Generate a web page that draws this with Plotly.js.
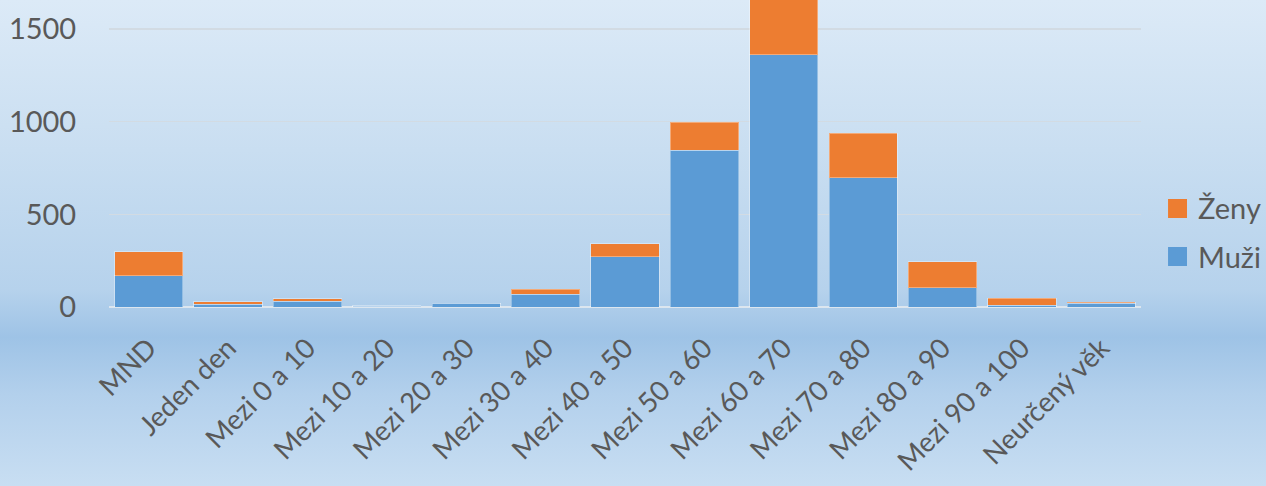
<!DOCTYPE html>
<html>
<head>
<meta charset="utf-8">
<script src="https://cdn.plot.ly/plotly-3.0.1.min.js"></script>
<style>
  html, body { margin: 0; padding: 0; }
  #chart {
    width: 1266px; height: 486px;
    background: linear-gradient(to bottom, #DCEAF7 0px, #C9DEF1 150px, #B6D2EC 290px, #9EC3E6 337px, #B3D0EC 395px, #C8DEF2 486px);
  }
</style>
</head>
<body>
<div id="chart"></div>
<script>
const categories = ["MND", "Jeden den", "Mezi 0 a 10", "Mezi 10 a 20", "Mezi 20 a 30", "Mezi 30 a 40", "Mezi 40 a 50", "Mezi 50 a 60", "Mezi 60 a 70", "Mezi 70 a 80", "Mezi 80 a 90", "Mezi 90 a 100", "Neurčený věk"];
const muzi = [169, 15, 31, 5, 19, 70, 271, 847, 1362, 698, 104, 9, 21];
const zeny = [128, 14, 14, 1, 1, 26, 71, 151, 320, 239, 141, 38, 6];
const seriesNames = ["Muži", "Ženy"];
const yTicks = [0, 500, 1000, 1500];

const textColor = "#595959";
const fontFam = "Lato, 'Open Sans', sans-serif";

const traces = [
  { type: "bar", name: seriesNames[0], x: categories, y: muzi,
    marker: { color: "#5B9BD5", line: { color: "rgba(255,255,255,0.35)", width: 1 } },
    showlegend: false, hoverinfo: "x+y+name" },
  { type: "bar", name: seriesNames[1], x: categories, y: zeny,
    marker: { color: "#ED7D31", line: { color: "rgba(255,255,255,0.35)", width: 1 } },
    showlegend: false, hoverinfo: "x+y+name" }
];

const layout = {
  width: 1266, height: 486,
  margin: { l: 109, r: 125, t: 0, b: 179 },
  paper_bgcolor: "rgba(0,0,0,0)",
  plot_bgcolor: "rgba(0,0,0,0)",
  barmode: "stack",
  bargap: 0.14,
  font: { family: fontFam, color: textColor, size: 29 },
  xaxis: {
    type: "category",
    tickangle: -45,
    ticks: "outside", ticklen: 13, tickcolor: "rgba(0,0,0,0)",
    tickfont: { family: fontFam, size: 27.5, color: textColor },
    showgrid: false, showline: false, zeroline: false,
    automargin: false
  },
  yaxis: {
    range: [0, 1657],
    tickvals: yTicks,
    ticktext: yTicks.map(String),
    ticks: "outside", ticklen: 26, tickcolor: "rgba(0,0,0,0)",
    tickfont: { family: fontFam, size: 29, color: textColor },
    showgrid: true, gridcolor: "#D2DBE3", gridwidth: 1.5,
    zeroline: true, zerolinecolor: "#DCE6EF", zerolinewidth: 2,
    showline: false,
    automargin: false
  },
  shapes: [
    { type: "rect", xref: "paper", yref: "paper", x0: 1.0262, x1: 1.0446, y0: 0.2899, y1: 0.3518,
      fillcolor: "#ED7D31", line: { width: 0 } },
    { type: "rect", xref: "paper", yref: "paper", x0: 1.0262, x1: 1.0446, y0: 0.1336, y1: 0.1954,
      fillcolor: "#5B9BD5", line: { width: 0 } }
  ],
  annotations: [
    { xref: "paper", yref: "paper", x: 1.0533, y: 0.3225, xanchor: "left", yanchor: "middle",
      text: seriesNames[1], showarrow: false, font: { family: fontFam, size: 29, color: textColor } },
    { xref: "paper", yref: "paper", x: 1.0533, y: 0.1629, xanchor: "left", yanchor: "middle",
      text: seriesNames[0], showarrow: false, font: { family: fontFam, size: 29, color: textColor } }
  ]
};

Plotly.newPlot("chart", traces, layout, { displayModeBar: false, staticPlot: true });
</script>
</body>
</html>
